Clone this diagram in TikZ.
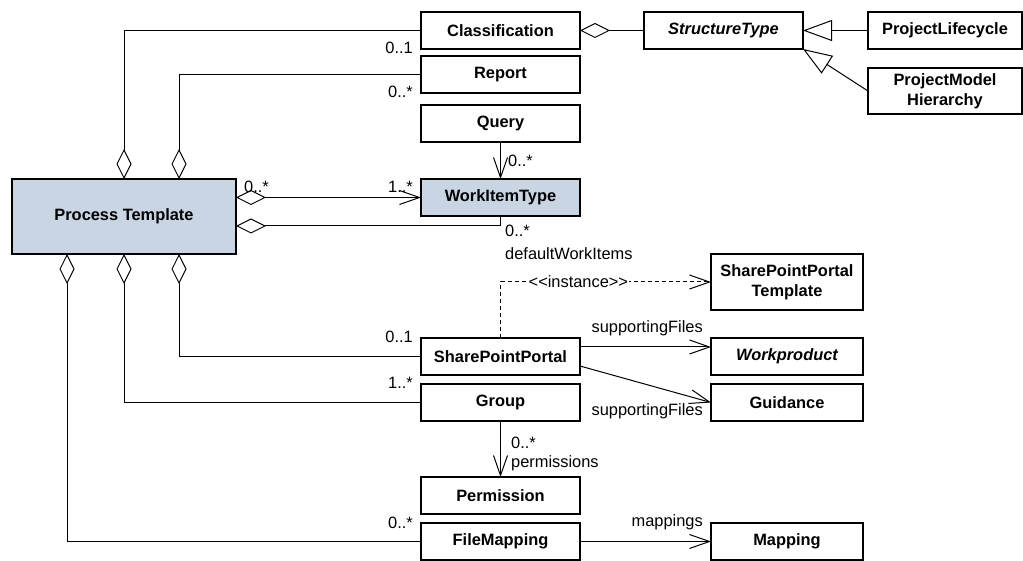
\documentclass[tikz,border=0pt]{standalone}
\usepackage{fontspec}
\setmainfont{Liberation Sans}
\usepackage{xcolor}
\usetikzlibrary{arrows.meta, positioning}
\definecolor{classfill}{RGB}{201,213,227}
\newcommand{\umlfont}{\fontsize{16.4}{20}\selectfont}

\begin{document}
\begin{tikzpicture}[
  x=1pt, y=-1pt,
  font=\umlfont,
  node distance=9pt and 131pt,
  box/.style={draw, line width=1.6pt, outer sep=0pt, inner sep=2pt,
    minimum width=159pt, minimum height=37pt, align=center, font=\umlfont\bfseries},
  rbox/.style={box, minimum width=152pt},
  lbl/.style={inner sep=0pt},
  agg/.style={line width=1pt, {Diamond[open, length=30pt, width=15pt]}-},
  nav/.style={line width=1pt, -{Straight Barb[length=20pt, width=14pt]}},
  aggnav/.style={line width=1pt, {Diamond[open, length=30pt, width=15pt]}-{Straight Barb[length=20pt, width=14pt]}},
  gen/.style={line width=1pt, -{Triangle[open, length=29pt, width=21pt]}},
  dep/.style={nav, dash pattern=on 4pt off 3pt}
]
\useasboundingbox (0,0) rectangle (1023,561);

% Nodes
\node[box, fill=classfill, minimum width=224pt, minimum height=75pt] (pt) at (124,216.5) {Process Template};
\node[box] (cls) at (500.5,30.5) {Classification};
\node[box, below=7pt of cls] (rep) {Report};
\node[box, below=12pt of rep] (qry) {Query};
\node[box, fill=classfill, below=37pt of qry] (wit) {WorkItemType};
\node[box, below=122pt of wit] (spp) {SharePointPortal};
\node[box, below=of spp] (grp) {Group};
\node[box, below=56pt of grp] (prm) {Permission};
\node[box, below=of prm] (fm) {FileMapping};
\node[box, right=64pt of cls] (st) {\itshape StructureType};
\node[box, minimum width=154pt, right=65pt of st] (plc) {ProjectLifecycle};
\node[box, minimum width=154pt, minimum height=46pt, below=19pt of plc] (pmh) {ProjectModel\\Hierarchy};
\node[rbox, right=of spp] (wp) {\itshape Workproduct};
\node[rbox, minimum height=56pt, above=28pt of wp] (sppt) {SharePointPortal\\Template};
\node[rbox, right=of grp] (gui) {Guidance};
\node[rbox, right=of fm] (map) {Mapping};

% Pointers
\draw[agg] ([xshift=112pt]pt.north west) |- (cls.west);
\draw[agg] ([xshift=167pt]pt.north west) |- (rep.west);
\draw[aggnav] (pt.east |- wit.west) -- (wit.west);
\draw[agg] ([yshift=-9.5pt]pt.east) -| (wit.south);
\draw[nav] (qry.south) -- (wit.north);
\draw[agg] ([xshift=167pt]pt.south west) |- (spp.west);
\draw[agg] (pt.south) |- (grp.west);
\draw[agg] ([xshift=55pt]pt.south west) |- (fm.west);
\draw[dep] (spp.north) |- node[lbl, pos=0.685, fill=white, inner sep=1pt] {<\kern0pt<instance>\kern0pt>} (sppt.west);
\draw[nav] ([yshift=9.5pt]spp.east) -- ([yshift=9.5pt]wp.west);
\draw[nav] ([yshift=-9.5pt]spp.east) -- (gui.west);
\draw[nav] (grp.south) -- (prm.north);
\draw[nav] (fm.east) -- (map.west);
\draw[agg] (cls.east) -- (st.west);
\draw[gen] (plc.west) -- (st.east);
\draw[gen] (pmh.west) -- (st.south east);

% Labels
\node[lbl, anchor=east] at (413,48) {0..1};
\node[lbl, anchor=east] at (413,92) {0..*};
\node[lbl, anchor=west] at (244,187) {0..*};
\node[lbl, anchor=east] at (413,187) {1..*};
\node[lbl, anchor=west] at (508,161) {0..*};
\node[lbl, anchor=west] at (505,231) {0..*};
\node[lbl, anchor=west] at (505,254) {defaultWorkItems};
\node[lbl, anchor=east] at (413,337) {0..1};
\node[lbl, anchor=east] at (413,383) {1..*};
\node[lbl, anchor=east] at (413,523) {0..*};
\node[lbl, anchor=east] at (703,328) {supportingFiles};
\node[lbl, anchor=east] at (703,411) {supportingFiles};
\node[lbl, anchor=west] at (511,443) {0..*};
\node[lbl, anchor=west] at (511,463) {permissions};
\node[lbl, anchor=east] at (703,522) {mappings};
\end{tikzpicture}
\end{document}
